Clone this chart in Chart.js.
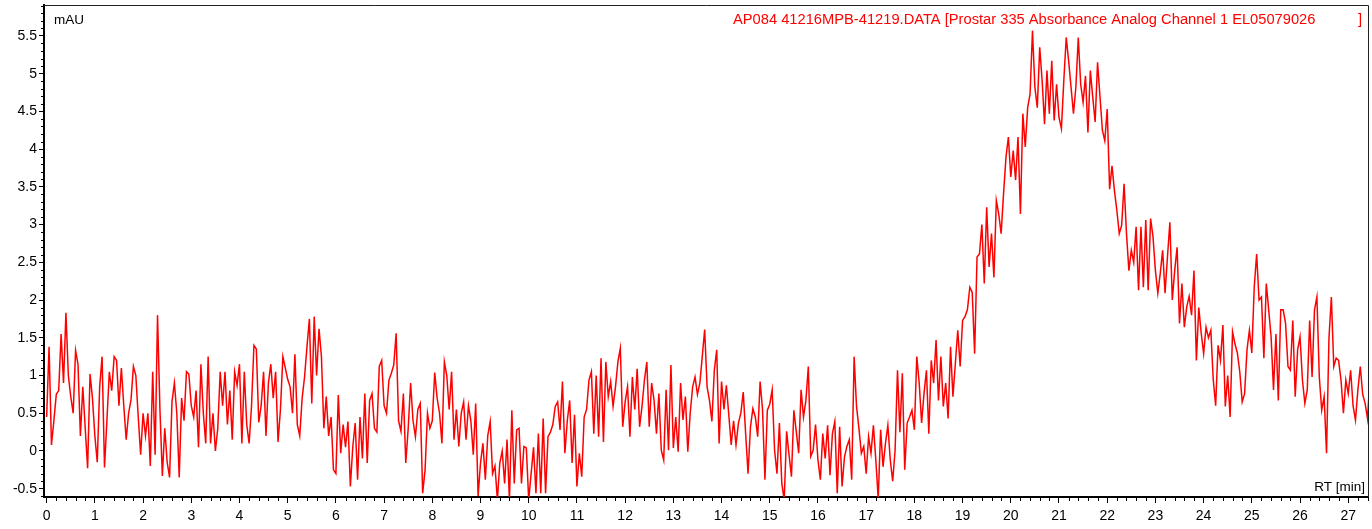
<!DOCTYPE html>
<html>
<head>
<meta charset="utf-8">
<script src="https://cdn.jsdelivr.net/npm/chart.js@4.4.1/dist/chart.umd.min.js"></script>
<style>
  html, body { margin: 0; padding: 0; background: #fff; }
  #wrap { width: 1372px; height: 529px; position: relative; }
</style>
</head>
<body>
<div id="wrap"><canvas id="chromChart"></canvas></div>
<script>
// sampling interval of the detector trace (min)
const RT_STEP = 0.05;

// absorbance (mAU), one row per minute of run time
const mauBaseline = [
  0.45, 1.38, 0.08, 0.40, 0.75, 0.80, 1.55, 0.90, 1.83, 1.00, 0.72, 0.50, 1.33, 1.15, 0.20, 0.85, 0.30, -0.23, 1.02, 0.70,
  0.20, -0.15, 0.85, 1.25, -0.22, 0.40, 1.05, 0.80, 1.25, 1.20, 0.60, 1.10, 0.60, 0.15, 0.50, 0.68, 1.12, 1.00, 0.45, -0.05,
  0.50, 0.20, 0.50, -0.20, 1.05, -0.05, 1.80, 0.55, -0.33, 0.30, -0.15, -0.35, 0.65, 0.90, 0.50, -0.35, 0.70, 0.40, 1.05, 1.02,
  0.60, 0.45, 0.80, 0.05, 1.15, 0.50, 0.10, 1.25, 0.10, 0.50, 0.00, 0.30, 1.05, 0.60, 1.05, 0.35, 0.80, 0.15, 1.05, 0.87,
  1.15, 0.10, 1.05, 0.35, 0.10, 0.60, 1.40, 1.35, 0.38, 0.60, 1.05, 0.20, 0.90, 1.15, 0.70, 1.05, 0.12, 0.55, 1.25, 1.10,
  0.95, 0.85, 0.50, 1.28, 0.35, 0.20, 0.70, 0.98, 1.38, 1.75, 0.63, 1.78, 1.00, 1.62, 1.25, 0.30, 0.72, 0.20, 0.45, -0.25,
  -0.30, 0.74, -0.03, 0.35, 0.05, 0.39, -0.47, 0.05, 0.37, -0.38, 0.45, -0.10, 0.76, -0.16, 0.67, 0.76, 0.30, 0.25, 1.12, 1.20,
  0.60, 0.50, 0.94, 1.03, 1.14, 1.56, 0.40, 0.26, 0.76, -0.16, 0.30, 0.90, 0.40, 0.19, 0.55, 0.63, -0.56, -0.25, 0.50, 0.30,
  0.40, 1.04, 0.70, 0.50, 0.10, 1.18, 1.00, 0.55, 1.05, 0.15, 0.55, 0.06, 0.50, 0.65, 0.15, 0.60, 0.40, -0.05, 0.63, -0.60
];
const mauDip = [
  -0.16, 0.10, -0.38, 0.20, 0.39, -0.30, -0.20, -0.65, -0.16, 0.00, -0.43, 0.15, -0.65, 0.54, -0.43, 0.28, 0.30, -0.43, 0.06, 0.04,
  -0.65, -0.30, 0.05, -0.56, 0.23, -0.56, 0.43, -0.56, 0.19, 0.25, 0.35, 0.59, 0.65, 0.28, 0.92, -0.03, 0.40, 0.67, -0.16, 0.48,
  -0.47, -0.03, -0.34, 0.45, 0.55, 0.94, 1.05, 0.23, 1.00, 0.19, 1.23, 0.12, 1.18, 0.72, 0.92, 0.59, 0.85, 1.18, 1.36, 0.32,
  0.65, 0.85, 0.19, 0.98, 0.55, 1.09, 0.32, 0.59, 0.94, 1.18, 0.32, 0.90, 0.67, 0.23, 0.76, 0.01, -0.12, 0.81, 0.01, 1.14,
  0.04, 0.45, -0.01, 0.90, 0.41, 0.72, -0.01, 0.50, 0.85, 0.98, 0.75, 0.90, 1.25, 1.61, 0.85, 0.67, 0.39, 1.07, 1.34, 0.10,
  0.92, 0.55, 0.87, 0.48, 0.08, 0.40, 0.08, 0.37, 0.50, 0.78, 0.23, -0.30, 0.32, 0.56, 0.45, 0.19, 0.92, 0.55, -0.38, 0.54,
  0.62, 0.81, 0.01, -0.30, 0.37, -0.43, -0.65, 0.26, -0.05, -0.34, 0.54, 0.26, -0.03, 0.81, 0.45, 0.67, 1.12, -0.07, 0.01, 0.35,
  -0.12, -0.38, 0.23, -0.10, 0.34, -0.32, 0.23, 0.39, -0.56, 0.32, -0.47, -0.08, 0.06, 0.15, -0.38, 1.25, 0.59, 0.30, -0.03, 0.06,
  -0.30, 0.19, -0.03, 0.34, -0.12, -0.63, 0.28, -0.21, 0.10, 0.34, -0.12, -0.40, 0.01, 1.07, 0.25, 1.03, -0.25, 0.37, 0.45, 0.54
];
const mauPeak = [
  0.28, 1.25, 0.90, 0.37, 0.76, 1.07, 0.23, 1.20, 0.90, 1.47, 0.67, 1.25, 0.59, 0.90, 0.43, 1.38, 0.72, 1.16, 1.60, 1.12,
  1.73, 1.78, 1.87, 2.17, 2.10, 1.29, 2.57, 2.61, 3.00, 2.22, 3.23, 2.44, 2.88, 2.30, 3.32, 3.14, 2.88, 3.41, 3.89, 4.16,
  3.63, 3.98, 3.59, 4.16, 3.14, 4.47, 4.03, 4.55, 4.73, 5.57, 4.82, 4.55, 5.35, 4.91, 4.33, 5.04, 4.47, 5.17, 4.38, 4.86,
  4.42, 4.27, 4.91, 5.48, 5.17, 4.82, 4.47, 4.82, 5.48, 4.86, 4.62, 4.97, 4.22, 5.04, 4.69, 4.36, 5.15, 4.70, 4.25, 4.11,
  4.53, 3.47, 3.78, 3.45, 3.19, 2.88, 2.99, 3.54, 2.88, 2.39, 2.66, 2.50, 2.97, 2.13, 2.97, 2.17, 3.06, 2.13, 3.08, 2.84
];
const mauTail = [
  2.39, 2.09, 2.35, 2.66, 2.09, 2.57, 3.03, 2.00, 2.39, 2.70, 1.69, 2.22, 1.64, 1.91, 2.05, 1.80, 2.39, 1.20, 1.90, 1.56,
  1.29, 1.64, 1.50, 1.60, 0.94, 0.60, 1.40, 1.20, 1.67, 0.59, 1.00, 0.45, 1.58, 1.42, 1.30, 1.05, 0.65, 0.76, 1.34, 1.60,
  1.30, 2.17, 2.61, 2.00, 2.04, 1.23, 2.22, 1.87, 1.51, 0.81, 1.55, 0.67, 1.87, 1.87, 1.69, 1.12, 1.07, 1.73, 0.72, 1.34,
  1.51, 0.94, 0.63, 0.81, 1.73, 0.98, 1.87, 2.04, 0.98, 0.54, 0.72, -0.03, 1.49, 2.04, 1.12, 1.23, 1.20, 0.94, 0.50, 0.94,
  0.76, 1.07, 0.60, 0.41, 0.81, 1.12, 0.75, 0.63, 0.43, 0.98
];

const xTicks = [0, 1, 2, 3, 4, 5, 6, 7, 8, 9, 10, 11, 12, 13, 14, 15, 16, 17, 18, 19, 20, 21, 22, 23, 24, 25, 26, 27];
const yTicks = [-0.5, 0, 0.5, 1, 1.5, 2, 2.5, 3, 3.5, 4, 4.5, 5, 5.5];

const yUnit = 'mAU';
const xTitle = 'RT [min]';
const traceName = 'AP084 41216MPB-41219.DATA [Prostar 335 Absorbance Analog Channel 1 EL05079026';

const mau = mauBaseline.concat(mauDip, mauPeak, mauTail);
const rt = mau.map((v, i) => Math.round(i * RT_STEP * 100) / 100);
const points = rt.map((t, i) => ({ x: t, y: mau[i] }));

const FONT = '"Liberation Sans", Arial, sans-serif';

// frame, minor ticks and the labels printed inside the plot
const decorations = {
  id: 'decorations',
  afterDraw(chart) {
    const ctx = chart.ctx;
    const a = chart.chartArea;
    const xs = chart.scales.x;
    const ys = chart.scales.y;
    ctx.save();

    ctx.strokeStyle = '#222';
    ctx.lineWidth = 1;
    ctx.beginPath();
    ctx.moveTo(a.left, a.top + 0.5);
    ctx.lineTo(a.right + 0.5, a.top + 0.5);
    ctx.lineTo(a.right + 0.5, a.bottom);
    ctx.stroke();

    ctx.strokeStyle = '#000';
    ctx.beginPath();
    for (let k = 1; k * 0.2 <= xs.max; k++) {
      if (k % 5 === 0) continue;
      const px = Math.round(xs.getPixelForValue(k * 0.2)) + 0.5;
      ctx.moveTo(px, a.bottom);
      ctx.lineTo(px, a.bottom + 4);
    }
    for (let k = -6; k * 0.1 <= ys.max; k++) {
      if (k % 5 === 0) continue;
      const py = Math.round(ys.getPixelForValue(k * 0.1)) + 0.5;
      ctx.moveTo(a.left - 3, py);
      ctx.lineTo(a.left, py);
    }
    ctx.stroke();

    ctx.font = '13.5px ' + FONT;
    ctx.textBaseline = 'middle';
    ctx.fillStyle = '#000';
    ctx.textAlign = 'left';
    ctx.fillText(yUnit, a.left + 10, 20);
    ctx.textAlign = 'right';
    ctx.fillText(xTitle, a.right - 3, 487);

    ctx.fillStyle = '#ff0000';
    ctx.font = '14.7px ' + FONT;
    ctx.textAlign = 'left';
    ctx.fillText(traceName, 733, 20);
    ctx.fillText(']', 1358, 20);
    ctx.restore();
  }
};

new Chart(document.getElementById('chromChart'), {
  type: 'line',
  data: {
    datasets: [{
      label: traceName,
      data: points,
      borderColor: '#ff0000',
      borderWidth: 1.5,
      pointRadius: 0,
      tension: 0,
      fill: false
    }]
  },
  options: {
    responsive: true,
    maintainAspectRatio: false,
    animation: false,
    layout: { padding: { top: 5, right: 4, left: 0, bottom: 0 } },
    plugins: {
      legend: { display: false },
      tooltip: { enabled: false }
    },
    scales: {
      x: {
        type: 'linear',
        min: -0.055,
        max: 27.41,
        afterBuildTicks: (s) => { s.ticks = xTicks.map(v => ({ value: v })); },
        afterFit: (s) => { s.height = 32; s.paddingLeft = 0; s.paddingRight = 0; },
        border: { display: true, color: '#000', width: 2 },
        grid: { drawOnChartArea: false, drawTicks: true, tickLength: 6, tickColor: '#000', tickWidth: 1 },
        ticks: { color: '#000', font: { family: FONT, size: 14 }, padding: 5, maxRotation: 0, autoSkip: false }
      },
      y: {
        min: -0.61,
        max: 5.91,
        afterBuildTicks: (s) => { s.ticks = yTicks.map(v => ({ value: v })); },
        afterFit: (s) => { s.width = 44; s.paddingTop = 0; s.paddingBottom = 0; },
        border: { display: true, color: '#000', width: 2 },
        grid: { drawOnChartArea: false, drawTicks: true, tickLength: 5, tickColor: '#000', tickWidth: 1 },
        ticks: { color: '#000', font: { family: FONT, size: 14 }, padding: 2, autoSkip: false,
                 callback: (v) => String(v) }
      }
    }
  },
  plugins: [decorations]
});
</script>
</body>
</html>
